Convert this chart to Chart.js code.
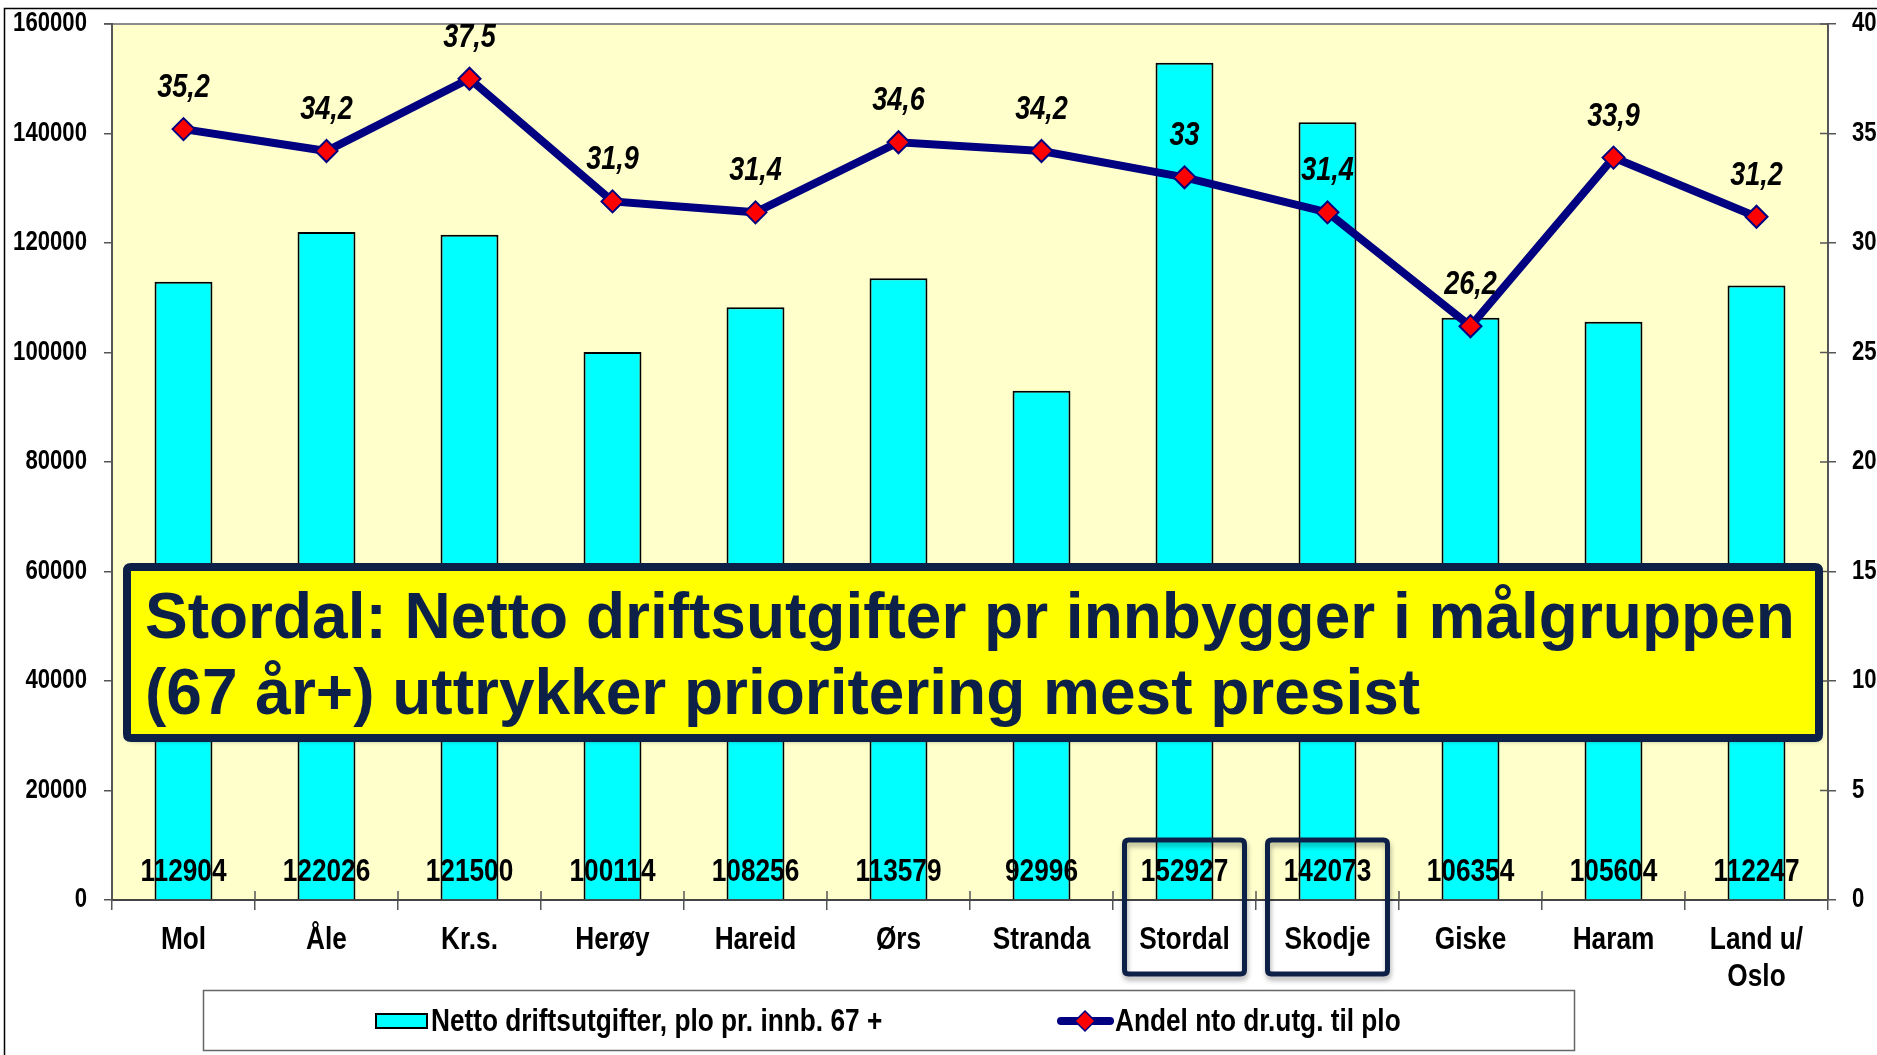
<!DOCTYPE html>
<html>
<head>
<meta charset="utf-8">
<script src="https://cdn.jsdelivr.net/npm/chart.js@4/dist/chart.umd.min.js"></script>
<style>
  html, body { margin: 0; padding: 0; background: #fff; }
  #wrap { width: 1877px; height: 1055px; position: relative; }
</style>
</head>
<body>
<div id="wrap"><canvas id="chart"></canvas></div>
<script>
"use strict";

// Chart data
const categories = ["Mol", "Åle", "Kr.s.", "Herøy", "Hareid", "Ørs", "Stranda",
    "Stordal", "Skodje", "Giske", "Haram", ["Land u/", "Oslo"]];
const nettoUtgifter = [112904, 122026, 121500, 100114, 108256, 113579, 92996,
    152927, 142073, 106354, 105604, 112247];
const andelPlo = [35.2, 34.2, 37.5, 31.9, 31.4, 34.6, 34.2, 33, 31.4, 26.2, 33.9, 31.2];
const leftTicks = [0, 20000, 40000, 60000, 80000, 100000, 120000, 140000, 160000];
const rightTicks = [0, 5, 10, 15, 20, 25, 30, 35, 40];
const highlighted = ["Stordal", "Skodje"];
const barLabel = "Netto driftsutgifter, plo pr. innb. 67 +";
const lineLabel = "Andel nto dr.utg. til plo";
const calloutLines = [
    "Stordal: Netto driftsutgifter pr innbygger i målgruppen",
    "(67 år+) uttrykker prioritering mest presist",
];

// No Arial Narrow here: squeeze Liberation Sans horizontally instead
const SANS = "'Liberation Sans', Arial, sans-serif";
const SQUEEZE = 0.82;
const NAVY = "#0c2048";

function narrowText(ctx, text, x, y, align, font) {
    ctx.save();
    ctx.translate(x, y);
    ctx.scale(SQUEEZE, 1);
    ctx.font = font;
    ctx.textAlign = align;
    ctx.textBaseline = "middle";
    ctx.fillText(text, 0, 0);
    ctx.restore();
}

function roundRect(ctx, x, y, w, h, r) {
    ctx.beginPath();
    ctx.moveTo(x + r, y);
    ctx.lineTo(x + w - r, y);
    ctx.quadraticCurveTo(x + w, y, x + w, y + r);
    ctx.lineTo(x + w, y + h - r);
    ctx.quadraticCurveTo(x + w, y + h, x + w - r, y + h);
    ctx.lineTo(x + r, y + h);
    ctx.quadraticCurveTo(x, y + h, x, y + h - r);
    ctx.lineTo(x, y + r);
    ctx.quadraticCurveTo(x, y, x + r, y);
    ctx.closePath();
}

const decorPlugin = {
    id: "decor",
    beforeDraw(chart) {
        const { ctx, chartArea: a, width, height } = chart;
        ctx.save();
        ctx.fillStyle = "#fff";
        ctx.fillRect(0, 0, width, height);
        // plot background
        ctx.fillStyle = "#ffffcc";
        ctx.fillRect(a.left, a.top, a.right - a.left, a.bottom - a.top);
        // top edge of the plot
        ctx.strokeStyle = "#8c8c8c";
        ctx.lineWidth = 2;
        ctx.beginPath();
        ctx.moveTo(a.left - 8, a.top);
        ctx.lineTo(a.right, a.top);
        ctx.stroke();
        // slide frame
        ctx.strokeStyle = "#000";
        ctx.lineWidth = 1.5;
        ctx.beginPath();
        ctx.moveTo(4.5, height);
        ctx.lineTo(4.5, 8.5);
        ctx.lineTo(width, 8.5);
        ctx.stroke();
        ctx.restore();
    },
    afterDatasetsDraw(chart) {
        const { ctx, chartArea: a, scales } = chart;
        ctx.save();
        // inward halves of the tick marks
        ctx.strokeStyle = "#555";
        ctx.lineWidth = 1.5;
        ctx.beginPath();
        rightTicks.forEach((v) => {
            const y = scales.y1.getPixelForValue(v);
            ctx.moveTo(a.right - 8, y);
            ctx.lineTo(a.right, y);
        });
        const half = (scales.x.getPixelForValue(1) - scales.x.getPixelForValue(0)) / 2;
        for (let i = 1; i < categories.length; i++) {
            const x = scales.x.getPixelForValue(i) - half;
            ctx.moveTo(x, a.bottom - 9);
            ctx.lineTo(x, a.bottom);
        }
        ctx.stroke();

        ctx.fillStyle = "#000";
        // axis labels
        const tickFont = "bold 27px " + SANS;
        leftTicks.forEach((v) => {
            narrowText(ctx, String(v), a.left - 25, scales.y.getPixelForValue(v), "right", tickFont);
        });
        rightTicks.forEach((v) => {
            narrowText(ctx, String(v), a.right + 24, scales.y1.getPixelForValue(v), "left", tickFont);
        });
        categories.forEach((c, i) => {
            const lines = Array.isArray(c) ? c : [c];
            lines.forEach((t, j) => {
                narrowText(ctx, t, scales.x.getPixelForValue(i), a.bottom + 40 + j * 37, "center", "bold 32px " + SANS);
            });
        });

        // bar value labels
        const zeroY = scales.y.getPixelForValue(0);
        chart.getDatasetMeta(1).data.forEach((el, i) => {
            narrowText(ctx, String(nettoUtgifter[i]), el.x, zeroY - 28, "center", "bold 32px " + SANS);
        });
        // line value labels
        chart.getDatasetMeta(0).data.forEach((el, i) => {
            narrowText(ctx, String(andelPlo[i]).replace(".", ","), el.x, el.y - 41, "center", "italic bold 33px " + SANS);
        });
        ctx.restore();
    },
    afterDraw(chart) {
        const { ctx, chartArea: a, scales } = chart;
        ctx.save();

        // yellow callout
        ctx.shadowColor = "rgba(0,0,0,0.35)";
        ctx.shadowBlur = 5;
        ctx.shadowOffsetX = 2;
        ctx.shadowOffsetY = 3;
        roundRect(ctx, a.left + 15, 567, a.right - a.left - 24, 171, 4);
        ctx.fillStyle = "#ffff00";
        ctx.fill();
        ctx.shadowColor = "transparent";
        ctx.strokeStyle = NAVY;
        ctx.lineWidth = 8;
        ctx.stroke();
        ctx.fillStyle = NAVY;
        ctx.textAlign = "left";
        ctx.textBaseline = "alphabetic";
        ctx.font = "bold 64px " + SANS;
        ctx.fillText(calloutLines[0], a.left + 33, 638);
        ctx.fillText(calloutLines[1], a.left + 33, 714);

        // boxes round the highlighted categories
        highlighted.forEach((name) => {
            const x = scales.x.getPixelForValue(categories.indexOf(name));
            ctx.shadowColor = "rgba(0,0,0,0.3)";
            ctx.shadowBlur = 5;
            ctx.shadowOffsetX = 1;
            ctx.shadowOffsetY = 4;
            roundRect(ctx, x - 60, 840, 120, 134, 4);
            ctx.strokeStyle = NAVY;
            ctx.lineWidth = 5;
            ctx.stroke();
        });
        ctx.shadowColor = "transparent";

        // legend
        const lg = { left: 203, top: 990, right: 1574, bottom: 1050 };
        const cy = 1021;
        ctx.fillStyle = "#fff";
        ctx.fillRect(lg.left, lg.top, lg.right - lg.left, lg.bottom - lg.top);
        ctx.strokeStyle = "#666";
        ctx.lineWidth = 1.5;
        ctx.strokeRect(lg.left + 0.5, lg.top + 0.5, lg.right - lg.left, lg.bottom - lg.top);

        const bar = chart.data.datasets[1];
        ctx.fillStyle = bar.backgroundColor;
        ctx.fillRect(376, cy - 7, 51, 14);
        ctx.strokeStyle = "#000";
        ctx.lineWidth = 2;
        ctx.strokeRect(376, cy - 7, 51, 14);

        const line = chart.data.datasets[0];
        ctx.strokeStyle = line.borderColor;
        ctx.lineWidth = 8;
        ctx.lineCap = "round";
        ctx.beginPath();
        ctx.moveTo(1061, cy);
        ctx.lineTo(1110, cy);
        ctx.stroke();
        ctx.beginPath();
        ctx.moveTo(1085, cy - 10);
        ctx.lineTo(1095, cy);
        ctx.lineTo(1085, cy + 10);
        ctx.lineTo(1075, cy);
        ctx.closePath();
        ctx.fillStyle = line.pointBackgroundColor;
        ctx.fill();
        ctx.lineWidth = 1.5;
        ctx.stroke();

        ctx.fillStyle = "#000";
        narrowText(ctx, barLabel, 431, cy + 1, "left", "bold 32px " + SANS);
        narrowText(ctx, lineLabel, 1115, cy + 1, "left", "bold 32px " + SANS);
        ctx.restore();
    },
};

new Chart(document.getElementById("chart"), {
    type: "bar",
    data: {
        labels: categories,
        datasets: [
            {
                type: "line",
                label: lineLabel,
                data: andelPlo,
                yAxisID: "y1",
                order: 0,
                borderColor: "#000080",
                borderWidth: 8,
                tension: 0,
                pointStyle: "rectRot",
                pointRadius: 11,
                pointBackgroundColor: "#ff0000",
                pointBorderColor: "#000080",
                pointBorderWidth: 2,
            },
            {
                type: "bar",
                label: barLabel,
                data: nettoUtgifter,
                yAxisID: "y",
                order: 1,
                backgroundColor: "#00ffff",
                borderColor: "#000",
                borderWidth: 2,
                barPercentage: 0.405,
                categoryPercentage: 1,
            },
        ],
    },
    options: {
        responsive: true,
        maintainAspectRatio: false,
        animation: false,
        layout: { padding: { top: 24, left: 0, right: 0, bottom: 0 } },
        plugins: {
            legend: { display: false },
            tooltip: { enabled: false },
        },
        scales: {
            x: {
                offset: true,
                grid: { offset: true, drawOnChartArea: false, tickLength: 10, color: "#555", lineWidth: 1.5 },
                border: { color: "#444", width: 2 },
                ticks: { display: false },
                afterFit: (scale) => { scale.height = 155; },
            },
            y: {
                position: "left",
                min: 0,
                max: 160000,
                afterBuildTicks: (scale) => { scale.ticks = leftTicks.map((v) => ({ value: v })); },
                grid: { drawOnChartArea: false, tickLength: 8, color: "#555", lineWidth: 1.5 },
                border: { color: "#555", width: 2 },
                ticks: { display: false },
                afterFit: (scale) => { scale.width = 112; },
            },
            y1: {
                position: "right",
                min: 0,
                max: 40,
                afterBuildTicks: (scale) => { scale.ticks = rightTicks.map((v) => ({ value: v })); },
                grid: { drawOnChartArea: false, tickLength: 8, color: "#555", lineWidth: 1.5 },
                border: { color: "#555", width: 2 },
                ticks: { display: false },
                afterFit: (scale) => { scale.width = 49; },
            },
        },
    },
    plugins: [decorPlugin],
});
</script>
</body>
</html>
